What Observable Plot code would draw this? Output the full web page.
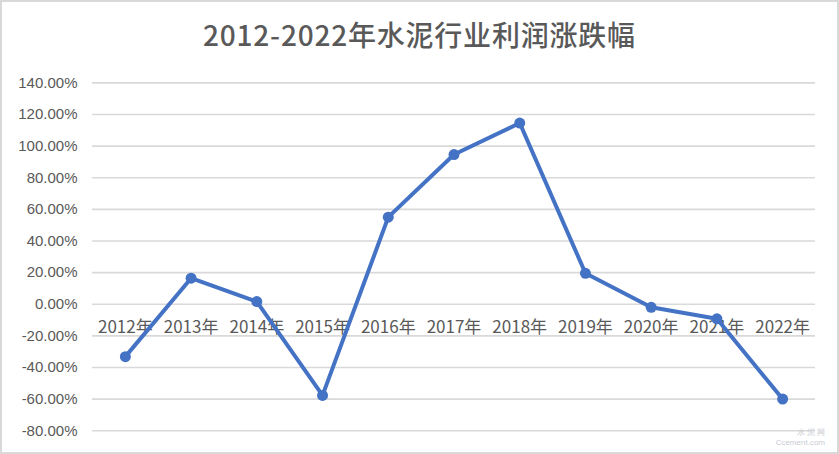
<!DOCTYPE html>
<html>
<head>
<meta charset="utf-8">
<script src="https://cdn.jsdelivr.net/npm/d3@7"></script>
<script src="https://cdn.jsdelivr.net/npm/@observablehq/plot@0.6"></script>
<style>
  body { margin: 0; background: #fff; }
  #wrap { position: relative; width: 839px; height: 454px; overflow: hidden; background: #fff; }
  #title { position: absolute; left: 0; top: 14px; width: 839px; text-align: center;
           font-family: "Noto Sans CJK SC", "Noto Sans", sans-serif; font-size: 28px; font-weight: 500;
           color: #595959; letter-spacing: 0.8px; line-height: 40px; }
  #frame { position: absolute; left: 0; top: 0; width: 839px; height: 454px; box-sizing: border-box;
           border: 2px solid #d9d9d9; pointer-events: none; }
  #wm { position: absolute; right: 14px; bottom: 6px; font-family: "Liberation Sans", sans-serif;
        font-size: 8px; color: #c8ccd4; pointer-events: none; text-align: right; line-height: 10px; }
</style>
</head>
<body>
<div id="wrap">
  <div id="chart"></div>
  <div id="title">2012-2022年水泥行业利润涨跌幅</div>
  <div id="wm">水 泥 网<br>Ccement.com</div>
  <div id="frame"></div>
</div>
<script>
const years = ["2012年","2013年","2014年","2015年","2016年","2017年","2018年","2019年","2020年","2021年","2022年"];
const profitChange = [-33.1, 16.5, 1.7, -57.6, 55.1, 94.7, 114.6, 19.6, -1.9, -9.2, -59.9];
const yTicks = [-80, -60, -40, -20, 0, 20, 40, 60, 80, 100, 120, 140];

const data = years.map((y, i) => ({year: y, value: profitChange[i]}));

const chart = Plot.plot({
  width: 839,
  height: 454,
  marginTop: 82.4,
  marginBottom: 23.7,
  marginLeft: 92,
  marginRight: 24,
  style: {background: "transparent", color: "#595959"},
  x: {type: "point", domain: years, padding: 0.5, round: false, axis: null},
  y: {domain: [-80, 140], axis: null},
  marks: [
    Plot.gridY(yTicks, {stroke: "#d9d9d9", strokeOpacity: 1, strokeWidth: 1.6}),
    Plot.axisY(yTicks, {
      tickSize: 0, tickPadding: 15,
      tickFormat: d => d.toFixed(2) + "%",
      fontSize: 15, fill: "#595959",
      fontFamily: "Liberation Sans, Arial, sans-serif",
      style: "letter-spacing:-0.5px",
      label: null
    }),
    Plot.text(data, {
      x: "year", y: () => 0, text: "year", dy: 23,
      fontSize: 17, fill: "#595959", lineAnchor: "middle", textAnchor: "middle",
      fontFamily: "Noto Sans CJK SC, Noto Sans, sans-serif"
    }),
    Plot.line(data, {x: "year", y: "value", stroke: "#4472C4", strokeWidth: 4, strokeLinejoin: "round"}),
    Plot.dot(data, {x: "year", y: "value", r: 5.5, fill: "#4472C4", stroke: "none"})
  ]
});
document.getElementById("chart").appendChild(chart);
</script>
</body>
</html>
